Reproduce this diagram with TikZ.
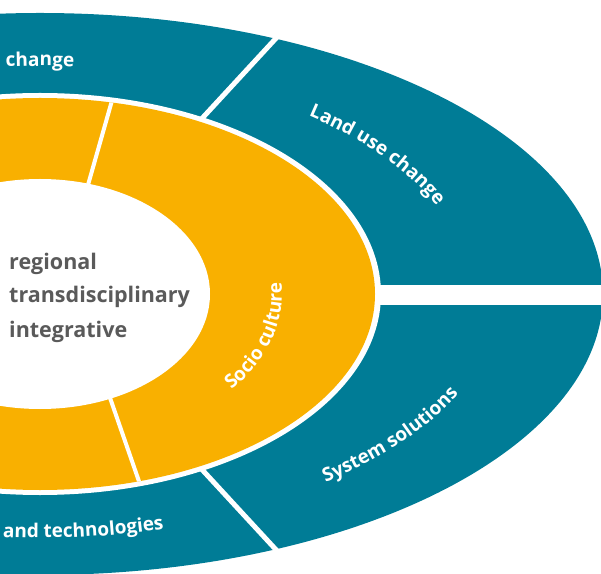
\documentclass[tikz,border=0pt]{standalone}
\usepackage{fontspec}
\setmainfont{Open Sans}
\usetikzlibrary{decorations.text}

\definecolor{ringteal}{HTML}{007C96}
\definecolor{ringorange}{HTML}{F9B000}
\definecolor{coregrey}{HTML}{5A5A5A}
\newcommand{\ringfont}{\fontsize{19}{19}\selectfont\bfseries\color{white}}

\begin{document}
\begin{tikzpicture}[x=1pt, y=1pt,
  gapline/.style={white, line width=5pt},
  coreline/.style={coregrey, inner sep=0pt, anchor=base west, font=\fontsize{21.5}{21.5}\selectfont\bfseries},
  ringlabel/.style={decorate, decoration={text along path, text align=center, text={|\ringfont|#1}}}]
\useasboundingbox (0,0) rectangle (601,573);
\clip (0,0) rectangle (601,573);
\coordinate (c) at (40,279);
\fill[ringteal] (c) ellipse [x radius=563pt, y radius=281pt];
\draw[gapline] (c) -- ++(47.3:700pt);
\draw[gapline] (c) -- ++(-47.3:700pt);
\fill[white] (40,268) rectangle (620,288);
\fill[white] (c) ellipse [x radius=341pt, y radius=201pt];
\fill[ringorange] (c) ellipse [x radius=335pt, y radius=196pt];
\begin{scope}
  \clip (c) ellipse [x radius=335pt, y radius=196pt];
  \coordinate (topcut) at (57,279);
  \coordinate (botcut) at (74,279);
  \draw[gapline, line width=4pt] (topcut) -- ++(29*2.3,102*2.3);
  \draw[gapline, line width=4pt] (botcut) -- ++(34*3.2,-98*3.2);
\end{scope}
\fill[white] (c) ellipse [x radius=170pt, y radius=115pt];

\node[coreline] (regional) at (9,303) {regional};
\node[coreline] (transdisc) at (9,270) {transdisciplinary};
\node[coreline] (integr) at (9,236) {integrative};

\path[shift={(c)}, ringlabel=change] (105:430pt and 228pt) arc [start angle=105, end angle=75, x radius=430pt, y radius=228pt];
\path[shift={(c)}, ringlabel=Land use change] (56:430pt and 228pt) arc [start angle=56, end angle=16, x radius=430pt, y radius=228pt];
\path[shift={(c)}, ringlabel=System solutions] (-60:460pt and 240pt) arc [start angle=-60, end angle=-12, x radius=460pt, y radius=240pt];
\path[shift={(c)}, ringlabel=and technologies] (255:460pt and 244pt) arc [start angle=255, end angle=296.4, x radius=460pt, y radius=244pt];
\path[shift={(c)}, ringlabel=Socio culture] (-52:242pt and 157pt) arc [start angle=-52, end angle=22, x radius=242pt, y radius=157pt];
\end{tikzpicture}
\end{document}
